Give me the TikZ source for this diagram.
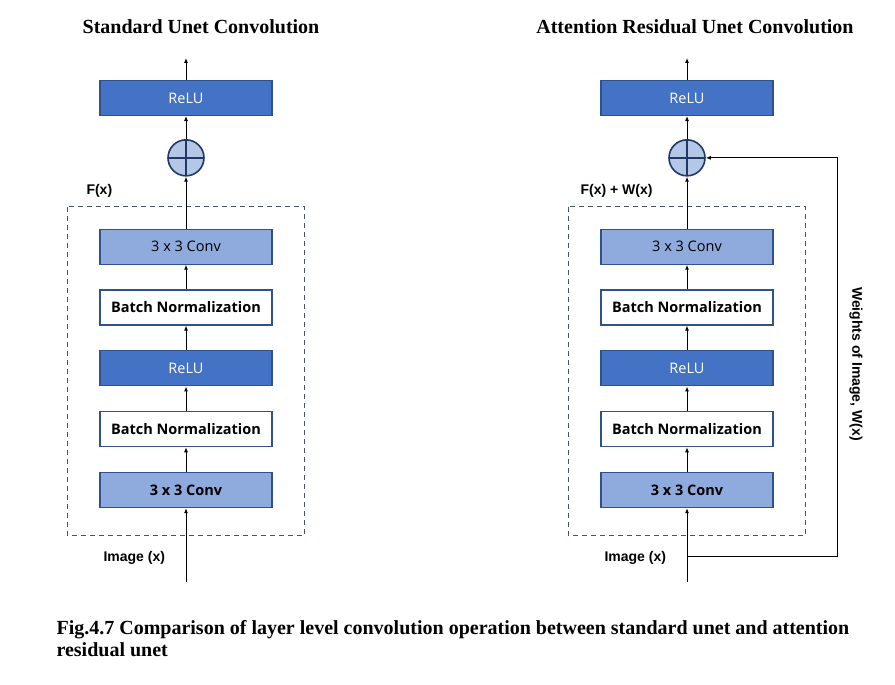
\documentclass[tikz,border=0pt]{standalone}
\usepackage{fontspec}
\setmainfont{Liberation Serif}
\setsansfont{Open Sans}
\newfontfamily\lblfont{Liberation Sans}
\usetikzlibrary{positioning,arrows.meta}
\definecolor{reludark}{HTML}{4472C4}
\definecolor{convlight}{HTML}{8FAADC}
\definecolor{boxedge}{HTML}{2F528F}
\definecolor{sumfill}{HTML}{B4C7E7}
\definecolor{sumedge}{HTML}{203864}
\definecolor{dashedge}{HTML}{44546A}
\begin{document}
\begin{tikzpicture}[x=1pt, y=1pt, node distance=24.75pt,
  layer/.style={draw=boxedge, line width=1.1pt, minimum width=172pt, minimum height=35pt,
    inner sep=0pt, font=\sffamily\fontsize{14.5}{16}\selectfont},
  relu/.style={layer, fill=reludark, text=white},
  conv/.style={layer, fill=convlight},
  bnorm/.style={layer, fill=white, font=\sffamily\bfseries\fontsize{14.5}{16}\selectfont},
  sum/.style={circle, draw=sumedge, fill=sumfill, line width=1.6pt, minimum size=36pt, inner sep=0pt,
    path picture={\draw[sumedge, line width=1.6pt] (path picture bounding box.north) -- (path picture bounding box.south)
      (path picture bounding box.west) -- (path picture bounding box.east);}},
  flow/.style={-{Latex[length=5pt,width=4pt]}, line width=1pt},
  dashbox/.style={draw=dashedge, dashed, dash pattern=on 5pt off 4pt, line width=1.1pt},
  lbl/.style={font=\lblfont\bfseries\fontsize{14}{16}\selectfont},
  heading/.style={font=\bfseries\fontsize{20}{22}\selectfont}]
\useasboundingbox (0,0) rectangle (895,685);

\node[heading] (ltitle) at (201,658) {Standard Unet Convolution};
\node[heading] (rtitle) at (695,658) {Attention Residual Unet Convolution};

\node[relu] (lrelu1) at (186,587) {ReLU};
\node[sum, below=23pt of lrelu1] (lsum) {};
\node[conv, below=52pt of lsum] (lconv1) {3 x 3 Conv};
\node[bnorm, below=of lconv1] (lbn1) {Batch Normalization};
\node[relu, below=of lbn1] (lrelu2) {ReLU};
\node[bnorm, below=of lrelu2] (lbn2) {Batch Normalization};
\node[conv, below=of lbn2, font=\sffamily\bfseries\fontsize{14.5}{16}\selectfont] (lconv2) {3 x 3 Conv};
\draw[dashbox] ([shift={(-32,22)}]lconv1.north west) rectangle ([shift={(32,-27)}]lconv2.south east);
\node[lbl, anchor=west] (lfx) at (83,494) {F(x)};
\node[lbl, anchor=west] (limg) at (100,127) {Image (x)};
\coordinate (lin) at (186,103);
\coordinate (lout) at (186,627);
\draw[flow] (lin) -- (lconv2);
\draw[flow] (lconv2) -- (lbn2);
\draw[flow] (lbn2) -- (lrelu2);
\draw[flow] (lrelu2) -- (lbn1);
\draw[flow] (lbn1) -- (lconv1);
\draw[flow] (lconv1) -- (lsum);
\draw[flow] (lsum) -- (lrelu1);
\draw[flow] (lrelu1) -- (lout);

\node[relu] (rrelu1) at (687,587) {ReLU};
\node[sum, below=23pt of rrelu1] (rsum) {};
\node[conv, below=52pt of rsum] (rconv1) {3 x 3 Conv};
\node[bnorm, below=of rconv1] (rbn1) {Batch Normalization};
\node[relu, below=of rbn1] (rrelu2) {ReLU};
\node[bnorm, below=of rrelu2] (rbn2) {Batch Normalization};
\node[conv, below=of rbn2, font=\sffamily\bfseries\fontsize{14.5}{16}\selectfont] (rconv2) {3 x 3 Conv};
\draw[dashbox] ([shift={(-32,22)}]rconv1.north west) rectangle ([shift={(32,-27)}]rconv2.south east);
\node[lbl, anchor=west] (rfx) at (577,494) {F(x) + W(x)};
\node[lbl, anchor=west] (rimg) at (601,127) {Image (x)};
\node[lbl, rotate=-90] (rweight) at (856,321) {Weights of Image, W(x)};
\coordinate (rin) at (687,103);
\coordinate (rsplit) at (687,128);
\coordinate (rout) at (687,627);
\draw[flow] (rin) -- (rconv2);
\draw[flow] (rconv2) -- (rbn2);
\draw[flow] (rbn2) -- (rrelu2);
\draw[flow] (rrelu2) -- (rbn1);
\draw[flow] (rbn1) -- (rconv1);
\draw[flow] (rconv1) -- (rsum);
\draw[flow] (rsum) -- (rrelu1);
\draw[flow] (rrelu1) -- (rout);
\draw[flow] (rsplit) -- (837,128) |- (rsum.east);

\node[heading, anchor=west, align=left, font=\bfseries\fontsize{20}{22}\selectfont] (caption) at (53,46)
  {Fig.4.7 Comparison of layer level convolution operation between standard unet and attention\\residual unet};
\end{tikzpicture}
\end{document}
